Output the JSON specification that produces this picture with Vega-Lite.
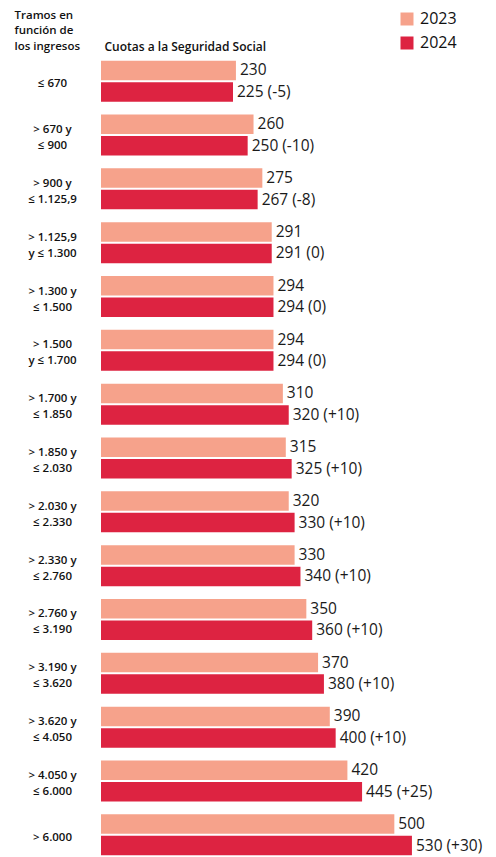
{
  "$schema": "https://vega.github.io/schema/vega-lite/v6.json",
  "width": 352,
  "height": 800,
  "autosize": "none",
  "padding": {"left": 101, "top": 58, "right": 43, "bottom": 0},
  "background": "white",
  "config": {"view": {"stroke": null}, "font": "Open Sans"},
  "data": {"values": [
    {"tramo": "≤ 670", "year": "2023", "value": 230, "label": "230"},
    {"tramo": "≤ 670", "year": "2024", "value": 225, "label": "225 (-5)"},
    {"tramo": "> 670 y|≤ 900", "year": "2023", "value": 260, "label": "260"},
    {"tramo": "> 670 y|≤ 900", "year": "2024", "value": 250, "label": "250 (-10)"},
    {"tramo": "> 900 y|≤ 1.125,9", "year": "2023", "value": 275, "label": "275"},
    {"tramo": "> 900 y|≤ 1.125,9", "year": "2024", "value": 267, "label": "267 (-8)"},
    {"tramo": "> 1.125,9|y ≤ 1.300", "year": "2023", "value": 291, "label": "291"},
    {"tramo": "> 1.125,9|y ≤ 1.300", "year": "2024", "value": 291, "label": "291 (0)"},
    {"tramo": "> 1.300 y|≤ 1.500", "year": "2023", "value": 294, "label": "294"},
    {"tramo": "> 1.300 y|≤ 1.500", "year": "2024", "value": 294, "label": "294 (0)"},
    {"tramo": "> 1.500|y ≤ 1.700", "year": "2023", "value": 294, "label": "294"},
    {"tramo": "> 1.500|y ≤ 1.700", "year": "2024", "value": 294, "label": "294 (0)"},
    {"tramo": "> 1.700 y|≤ 1.850", "year": "2023", "value": 310, "label": "310"},
    {"tramo": "> 1.700 y|≤ 1.850", "year": "2024", "value": 320, "label": "320 (+10)"},
    {"tramo": "> 1.850 y|≤ 2.030", "year": "2023", "value": 315, "label": "315"},
    {"tramo": "> 1.850 y|≤ 2.030", "year": "2024", "value": 325, "label": "325 (+10)"},
    {"tramo": "> 2.030 y|≤ 2.330", "year": "2023", "value": 320, "label": "320"},
    {"tramo": "> 2.030 y|≤ 2.330", "year": "2024", "value": 330, "label": "330 (+10)"},
    {"tramo": "> 2.330 y|≤ 2.760", "year": "2023", "value": 330, "label": "330"},
    {"tramo": "> 2.330 y|≤ 2.760", "year": "2024", "value": 340, "label": "340 (+10)"},
    {"tramo": "> 2.760 y|≤ 3.190", "year": "2023", "value": 350, "label": "350"},
    {"tramo": "> 2.760 y|≤ 3.190", "year": "2024", "value": 360, "label": "360 (+10)"},
    {"tramo": "> 3.190 y|≤ 3.620", "year": "2023", "value": 370, "label": "370"},
    {"tramo": "> 3.190 y|≤ 3.620", "year": "2024", "value": 380, "label": "380 (+10)"},
    {"tramo": "> 3.620 y|≤ 4.050", "year": "2023", "value": 390, "label": "390"},
    {"tramo": "> 3.620 y|≤ 4.050", "year": "2024", "value": 400, "label": "400 (+10)"},
    {"tramo": "> 4.050 y|≤ 6.000", "year": "2023", "value": 420, "label": "420"},
    {"tramo": "> 4.050 y|≤ 6.000", "year": "2024", "value": 445, "label": "445 (+25)"},
    {"tramo": "> 6.000", "year": "2023", "value": 500, "label": "500"},
    {"tramo": "> 6.000", "year": "2024", "value": 530, "label": "530 (+30)"}
  ]},
  "encoding": {
    "y": {
      "field": "tramo", "type": "nominal", "sort": null,
      "scale": {"paddingInner": 0.239, "paddingOuter": 0.05},
      "axis": {
        "labelExpr": "split(datum.value, '|')",
        "labelAlign": "center",
        "labelBaseline": "middle",
        "labelPadding": 49,
        "labelOffset": {"condition": {"test": "indexof(datum.value, '|') >= 0", "value": -5}, "value": 3},
        "labelFontSize": 11.5,
        "labelFontWeight": 600,
        "labelColor": "#111111",
        "labelLineHeight": 16,
        "ticks": false,
        "tickSize": 0,
        "domain": false,
        "grid": false,
        "title": ["Tramos en", "función de", "los ingresos"],
        "titleAngle": 0,
        "titleAlign": "left",
        "titleBaseline": "top",
        "titleX": -87,
        "titleY": -49,
        "titleFontSize": 11.5,
        "titleFontWeight": 600,
        "titleLineHeight": 15.8,
        "titleColor": "#111111"
      }
    },
    "yOffset": {"field": "year", "type": "nominal", "scale": {"paddingInner": 0.093, "paddingOuter": 0}},
    "x": {
      "field": "value", "type": "quantitative",
      "scale": {"domain": [0, 600], "nice": false},
      "axis": {
        "orient": "top",
        "labels": false, "ticks": false, "domain": false, "grid": false,
        "title": "Cuotas a la Seguridad Social",
        "titleAnchor": "start",
        "titleAlign": "left",
        "titleBaseline": "bottom",
        "titleX": 3,
        "titleY": -5,
        "titleFontSize": 12,
        "titleFontWeight": 600,
        "titleColor": "#111111"
      }
    }
  },
  "layer": [
    {
      "mark": {"type": "bar"},
      "encoding": {
        "color": {
          "field": "year", "type": "nominal",
          "scale": {"domain": ["2023", "2024"], "range": ["#f6a28b", "#dd2341"]},
          "legend": {
            "orient": "none", "legendX": 298, "legendY": -47,
            "title": null, "symbolType": "square", "symbolSize": 169,
            "labelFontSize": 16, "labelFontWeight": 500, "labelColor": "#111111",
            "rowPadding": 8, "labelOffset": 5
          }
        }
      }
    },
    {
      "mark": {"type": "text", "align": "left", "baseline": "middle", "dx": 4, "fontSize": 15.5, "color": "#1a1a1a"},
      "encoding": {"text": {"field": "label"}}
    }
  ]
}
